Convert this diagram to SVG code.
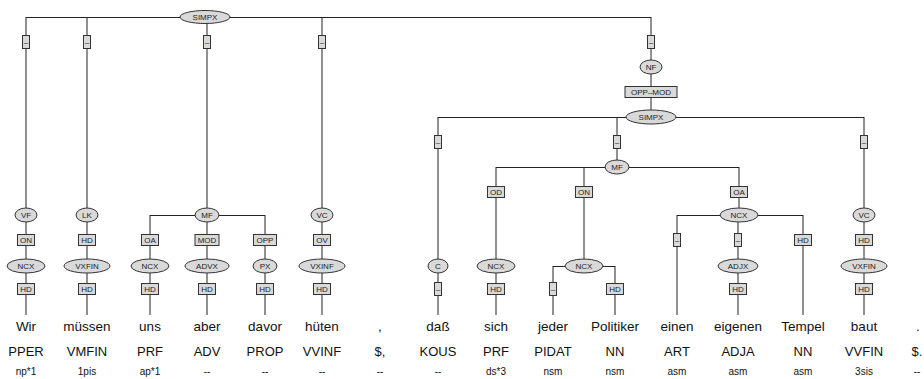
<svg xmlns="http://www.w3.org/2000/svg" width="924" height="379" viewBox="0 0 924 379">
<style>
.c line{stroke:#222;stroke-width:1;fill:none}
ellipse{fill:#d9d9d9;stroke:#333;stroke-width:1}
rect{fill:#d9d9d9;stroke:#333;stroke-width:1}
.n{font-family:"Liberation Sans",Arial,sans-serif;font-size:8px;fill:#222;text-anchor:middle}
.w{font-family:"Liberation Sans",Arial,sans-serif;font-size:13.5px;fill:#111;text-anchor:middle}
.p{font-family:"Liberation Sans",Arial,sans-serif;font-size:13px;fill:#111;text-anchor:middle}
.m{font-family:"Liberation Sans",Arial,sans-serif;font-size:10px;fill:#111;text-anchor:middle}
</style>
<rect x="0" y="0" width="924" height="379" style="fill:#fff;stroke:none"/>
<g class="c" id="connectors">
<line x1="26" y1="17.5" x2="651" y2="17.5"/>
<line x1="26" y1="17" x2="26" y2="315"/>
<line x1="87" y1="17" x2="87" y2="315"/>
<line x1="207" y1="17" x2="207" y2="315"/>
<line x1="322" y1="17" x2="322" y2="315"/>
<line x1="150" y1="215.5" x2="265" y2="215.5"/>
<line x1="150" y1="215" x2="150" y2="315"/>
<line x1="265" y1="215" x2="265" y2="315"/>
<line x1="651" y1="17" x2="651" y2="117"/>
<line x1="438" y1="117.5" x2="864" y2="117.5"/>
<line x1="438" y1="117" x2="438" y2="315"/>
<line x1="617" y1="117" x2="617" y2="167"/>
<line x1="864" y1="117" x2="864" y2="315"/>
<line x1="496" y1="167.5" x2="739" y2="167.5"/>
<line x1="496" y1="167" x2="496" y2="315"/>
<line x1="584" y1="167" x2="584" y2="266"/>
<line x1="739" y1="167" x2="739" y2="215"/>
<line x1="553" y1="266.5" x2="615" y2="266.5"/>
<line x1="553" y1="266" x2="553" y2="315"/>
<line x1="615" y1="266" x2="615" y2="315"/>
<line x1="677" y1="215.5" x2="803" y2="215.5"/>
<line x1="677" y1="215" x2="677" y2="315"/>
<line x1="738" y1="215" x2="738" y2="315"/>
<line x1="803" y1="215" x2="803" y2="315"/>
</g>

<g id="n_simpx1"><ellipse cx="205" cy="17" rx="25" ry="6.5"/><text class="n" x="205" y="20">SIMPX</text></g>
<g id="e_d1"><rect x="22.5" y="35.5" width="7" height="13"/><text class="n" x="26" y="45">–</text></g>
<g id="e_d2"><rect x="83.5" y="35.5" width="7" height="13"/><text class="n" x="87" y="45">–</text></g>
<g id="e_d3"><rect x="203.5" y="35.5" width="7" height="13"/><text class="n" x="207" y="45">–</text></g>
<g id="e_d4"><rect x="318.5" y="35.5" width="7" height="13"/><text class="n" x="322" y="45">–</text></g>
<g id="e_d5"><rect x="647.5" y="35.5" width="7" height="13"/><text class="n" x="651" y="45">–</text></g>

<g id="n_vf"><ellipse cx="26" cy="215" rx="11" ry="7"/><text class="n" x="26" y="218">VF</text></g>
<g id="e_on1"><rect x="17.5" y="234.5" width="17" height="11"/><text class="n" x="26" y="243">ON</text></g>
<g id="n_ncx1"><ellipse cx="26" cy="266" rx="19" ry="7"/><text class="n" x="26" y="269">NCX</text></g>
<g id="e_hd1"><rect x="17.5" y="283.5" width="17" height="11"/><text class="n" x="26" y="292">HD</text></g>

<g id="n_lk"><ellipse cx="87" cy="215" rx="11" ry="7"/><text class="n" x="87" y="218">LK</text></g>
<g id="e_hd2"><rect x="78.5" y="234.5" width="17" height="11"/><text class="n" x="87" y="243">HD</text></g>
<g id="n_vxfin1"><ellipse cx="87" cy="266" rx="23" ry="7"/><text class="n" x="87" y="269">VXFIN</text></g>
<g id="e_hd3"><rect x="78.5" y="283.5" width="17" height="11"/><text class="n" x="87" y="292">HD</text></g>

<g id="n_mf1"><ellipse cx="207" cy="215" rx="12" ry="7"/><text class="n" x="207" y="218">MF</text></g>
<g id="e_oa1"><rect x="141.5" y="234.5" width="17" height="11"/><text class="n" x="150" y="243">OA</text></g>
<g id="n_ncx2"><ellipse cx="150" cy="266" rx="19" ry="7"/><text class="n" x="150" y="269">NCX</text></g>
<g id="e_hd4"><rect x="141.5" y="283.5" width="17" height="11"/><text class="n" x="150" y="292">HD</text></g>
<g id="e_mod"><rect x="195" y="234.5" width="24" height="11"/><text class="n" x="207" y="243">MOD</text></g>
<g id="n_advx"><ellipse cx="207" cy="266" rx="22" ry="7"/><text class="n" x="207" y="269">ADVX</text></g>
<g id="e_hd5"><rect x="198.5" y="283.5" width="17" height="11"/><text class="n" x="207" y="292">HD</text></g>
<g id="e_opp"><rect x="253.5" y="234.5" width="23" height="11"/><text class="n" x="265" y="243">OPP</text></g>
<g id="n_px"><ellipse cx="265" cy="266" rx="12" ry="7"/><text class="n" x="265" y="269">PX</text></g>
<g id="e_hd6"><rect x="256.5" y="283.5" width="17" height="11"/><text class="n" x="265" y="292">HD</text></g>

<g id="n_vc1"><ellipse cx="322" cy="215" rx="11" ry="7"/><text class="n" x="322" y="218">VC</text></g>
<g id="e_ov"><rect x="313.5" y="234.5" width="17" height="11"/><text class="n" x="322" y="243">OV</text></g>
<g id="n_vxinf"><ellipse cx="322" cy="266" rx="23" ry="7"/><text class="n" x="322" y="269">VXINF</text></g>
<g id="e_hd7"><rect x="313.5" y="283.5" width="17" height="11"/><text class="n" x="322" y="292">HD</text></g>

<g id="n_nf"><ellipse cx="651" cy="67" rx="11" ry="7"/><text class="n" x="651" y="70">NF</text></g>
<g id="e_oppmod"><rect x="625" y="86.5" width="52" height="11"/><text class="n" x="651" y="95">OPP–MOD</text></g>
<g id="n_simpx2"><ellipse cx="651" cy="117" rx="25" ry="7"/><text class="n" x="651" y="120">SIMPX</text></g>
<g id="e_d6"><rect x="434.5" y="135.5" width="7" height="13"/><text class="n" x="438" y="145">–</text></g>
<g id="e_d7"><rect x="613.5" y="135.5" width="7" height="13"/><text class="n" x="617" y="145">–</text></g>
<g id="e_d8"><rect x="860.5" y="135.5" width="7" height="13"/><text class="n" x="864" y="145">–</text></g>

<g id="n_c"><ellipse cx="438" cy="266" rx="10" ry="7"/><text class="n" x="438" y="269">C</text></g>
<g id="e_d9"><rect x="434.5" y="282.5" width="7" height="13"/><text class="n" x="438" y="292">–</text></g>

<g id="n_mf2"><ellipse cx="617" cy="167" rx="12" ry="7"/><text class="n" x="617" y="170">MF</text></g>
<g id="e_od"><rect x="487.5" y="186.5" width="17" height="11"/><text class="n" x="496" y="195">OD</text></g>
<g id="n_ncx3"><ellipse cx="496" cy="266" rx="19" ry="7"/><text class="n" x="496" y="269">NCX</text></g>
<g id="e_hd8"><rect x="487.5" y="283.5" width="17" height="11"/><text class="n" x="496" y="292">HD</text></g>

<g id="e_on2"><rect x="575.5" y="186.5" width="17" height="11"/><text class="n" x="584" y="195">ON</text></g>
<g id="n_ncx4"><ellipse cx="584" cy="266" rx="19" ry="7"/><text class="n" x="584" y="269">NCX</text></g>
<g id="e_d10"><rect x="549.5" y="282.5" width="7" height="13"/><text class="n" x="553" y="292">–</text></g>
<g id="e_hd9"><rect x="606.5" y="283.5" width="17" height="11"/><text class="n" x="615" y="292">HD</text></g>

<g id="e_oa2"><rect x="730.5" y="186.5" width="17" height="11"/><text class="n" x="739" y="195">OA</text></g>
<g id="n_ncx5"><ellipse cx="739" cy="215" rx="19" ry="7"/><text class="n" x="739" y="218">NCX</text></g>
<g id="e_d11"><rect x="673.5" y="233.5" width="7" height="13"/><text class="n" x="677" y="243">–</text></g>
<g id="e_d12"><rect x="734.5" y="233.5" width="7" height="13"/><text class="n" x="738" y="243">–</text></g>
<g id="n_adjx"><ellipse cx="738" cy="266" rx="20" ry="7"/><text class="n" x="738" y="269">ADJX</text></g>
<g id="e_hd10"><rect x="729.5" y="283.5" width="17" height="11"/><text class="n" x="738" y="292">HD</text></g>
<g id="e_hd11"><rect x="794.5" y="234.5" width="17" height="11"/><text class="n" x="803" y="243">HD</text></g>

<g id="n_vc2"><ellipse cx="864" cy="215" rx="11" ry="7"/><text class="n" x="864" y="218">VC</text></g>
<g id="e_hd12"><rect x="855.5" y="234.5" width="17" height="11"/><text class="n" x="864" y="243">HD</text></g>
<g id="n_vxfin2"><ellipse cx="864" cy="266" rx="23" ry="7"/><text class="n" x="864" y="269">VXFIN</text></g>
<g id="e_hd13"><rect x="855.5" y="283.5" width="17" height="11"/><text class="n" x="864" y="292">HD</text></g>

<g id="words">
<text class="w" x="26" y="331">Wir</text>
<text class="w" x="87" y="331">müssen</text>
<text class="w" x="150" y="331">uns</text>
<text class="w" x="207" y="331">aber</text>
<text class="w" x="265" y="331">davor</text>
<text class="w" x="322" y="331">hüten</text>
<text class="w" x="380" y="331">,</text>
<text class="w" x="438" y="331">daß</text>
<text class="w" x="496" y="331">sich</text>
<text class="w" x="553" y="331">jeder</text>
<text class="w" x="615" y="331">Politiker</text>
<text class="w" x="677" y="331">einen</text>
<text class="w" x="738" y="331">eigenen</text>
<text class="w" x="803" y="331">Tempel</text>
<text class="w" x="864" y="331">baut</text>
<text class="w" x="918" y="331">.</text>
</g>
<g id="pos">
<text class="p" x="26" y="356">PPER</text>
<text class="p" x="87" y="356">VMFIN</text>
<text class="p" x="150" y="356">PRF</text>
<text class="p" x="207" y="356">ADV</text>
<text class="p" x="265" y="356">PROP</text>
<text class="p" x="322" y="356">VVINF</text>
<text class="p" x="380" y="356">$,</text>
<text class="p" x="438" y="356">KOUS</text>
<text class="p" x="496" y="356">PRF</text>
<text class="p" x="553" y="356">PIDAT</text>
<text class="p" x="615" y="356">NN</text>
<text class="p" x="677" y="356">ART</text>
<text class="p" x="738" y="356">ADJA</text>
<text class="p" x="803" y="356">NN</text>
<text class="p" x="864" y="356">VVFIN</text>
<text class="p" x="917" y="356">$.</text>
</g>
<g id="morph">
<text class="m" x="26" y="375">np*1</text>
<text class="m" x="87" y="375">1pis</text>
<text class="m" x="150" y="375">ap*1</text>
<text class="m" x="207" y="375">--</text>
<text class="m" x="265" y="375">--</text>
<text class="m" x="322" y="375">--</text>
<text class="m" x="380" y="375">--</text>
<text class="m" x="438" y="375">--</text>
<text class="m" x="496" y="375">ds*3</text>
<text class="m" x="553" y="375">nsm</text>
<text class="m" x="615" y="375">nsm</text>
<text class="m" x="677" y="375">asm</text>
<text class="m" x="738" y="375">asm</text>
<text class="m" x="803" y="375">asm</text>
<text class="m" x="864" y="375">3sis</text>
<text class="m" x="917" y="375">--</text>
</g>
</svg>
